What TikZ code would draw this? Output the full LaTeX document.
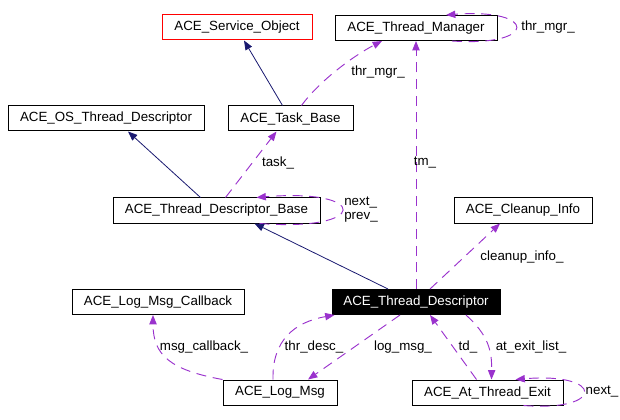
\documentclass[tikz,border=0pt]{standalone}
\usepackage{fontspec}
\setmainfont{Liberation Sans}
\usetikzlibrary{arrows.meta,calc}
\definecolor{edgenavy}{HTML}{191970}
\definecolor{edgepurple}{HTML}{9A32CD}
\tikzset{
  cls/.style={draw, rectangle, line width=0.75pt, minimum height=18.75pt, inner sep=0pt, font=\fontsize{10}{10.5}\selectfont},
  inh/.style={draw=edgenavy, line width=0.6pt, -{Triangle[length=7pt,width=5.5pt]}},
  rel/.style={draw=edgepurple, line width=0.7pt, dash pattern=on 7.5pt off 5pt, -{Triangle[length=7pt,width=5.5pt]}},
  lbl/.style={inner sep=0pt, font=\fontsize{10}{10.5}\selectfont}
}
\begin{document}
\begin{tikzpicture}[x=0.75pt, y=-0.75pt]
  \useasboundingbox (0,0) rectangle (620,420);
  \node[cls, draw=red, minimum width=112.5pt] (svcobj) at (237,27.5) {ACE\_Service\_Object};
  \node[cls, minimum width=121.5pt] (thrmgr) at (416,28) {ACE\_Thread\_Manager};
  \node[cls, minimum width=147pt] (osdesc) at (106,118.5) {ACE\_OS\_Thread\_Descriptor};
  \node[cls, minimum width=93.75pt] (taskbase) at (290.5,118.5) {ACE\_Task\_Base};
  \node[cls, minimum width=155.25pt] (tdbase) at (216.5,210.5) {ACE\_Thread\_Descriptor\_Base};
  \node[cls, minimum width=103.5pt] (cleanup) at (523,210.5) {ACE\_Cleanup\_Info};
  \node[cls, minimum width=129pt] (logcb) at (158,302) {ACE\_Log\_Msg\_Callback};
  \node[cls, fill=black, text=white, minimum width=126pt] (thrdesc) at (416,302) {ACE\_Thread\_Descriptor};
  \node[cls, minimum width=85.5pt] (logmsg) at (280,392.5) {ACE\_Log\_Msg};
  \node[cls, minimum width=113.25pt] (atexit) at (487.5,392.5) {ACE\_At\_Thread\_Exit};
  \draw[inh] ($(taskbase.north)+(-8,0)$) -- ($(svcobj.south)+(7,0)$);
  \draw[rel] ($(taskbase.north)+(11,0)$) .. controls (320,80) and (355,55) .. ($(thrmgr.south)+(-34,0)$) node[lbl] at (378,72) {thr\_mgr\_};
  \draw[rel] (thrdesc.north) -- (thrmgr.south) node[lbl] at (425,163) {tm\_};
  \draw[rel] ($(thrmgr.south)+(36,0)$) .. controls (538,47) and (538,8) .. ($(thrmgr.north)+(30,0)$) node[lbl] at (548,27) {thr\_mgr\_};
  \draw[inh] ($(tdbase.north)+(-16,0)$) -- ($(osdesc.south)+(22,0)$);
  \draw[rel] ($(tdbase.north)+(9,0)$) -- ($(taskbase.south)+(-14,0)$) node[lbl] at (278,163) {task\_};
  \draw[rel] ($(tdbase.south)+(43,0)$) .. controls (370,232) and (370,188) .. ($(tdbase.north)+(40,0)$) node[lbl, align=left] at (361,210) {next\_\\prev\_};
  \draw[inh] ($(thrdesc.north)+(-28,0)$) -- ($(tdbase.south)+(38,0)$);
  \draw[rel] ($(thrdesc.north)+(14,0)$) -- ($(cleanup.south)+(-23,0)$) node[lbl] at (522,257) {cleanup\_info\_};
  \draw[rel] (logmsg.north west) .. controls (170,370) and (153,355) .. ($(logcb.south)+(-5,0)$) node[lbl] at (204,347) {msg\_callback\_};
  \draw[rel] ($(logmsg.north)+(-7,0)$) .. controls (272,340) and (295,322) .. ($(thrdesc.south west)+(3,0)$) node[lbl] at (314,347) {thr\_desc\_};
  \draw[rel] ($(thrdesc.south)+(-16,0)$) -- ($(logmsg.north)+(28,0)$) node[lbl] at (403,347) {log\_msg\_};
  \draw[rel] ($(atexit.north)+(-11,0)$) -- ($(thrdesc.south)+(14,0)$) node[lbl] at (468,347) {td\_};
  \draw[rel] ($(thrdesc.south)+(50,0)$) .. controls (488,335) and (492,350) .. ($(atexit.north)+(4,0)$) node[lbl] at (531,347) {at\_exit\_list\_};
  \draw[rel] ($(atexit.south)+(36,0)$) .. controls (605,412) and (605,372) .. ($(atexit.north)+(28,0)$) node[lbl] at (602,392) {next\_};
\end{tikzpicture}
\end{document}
